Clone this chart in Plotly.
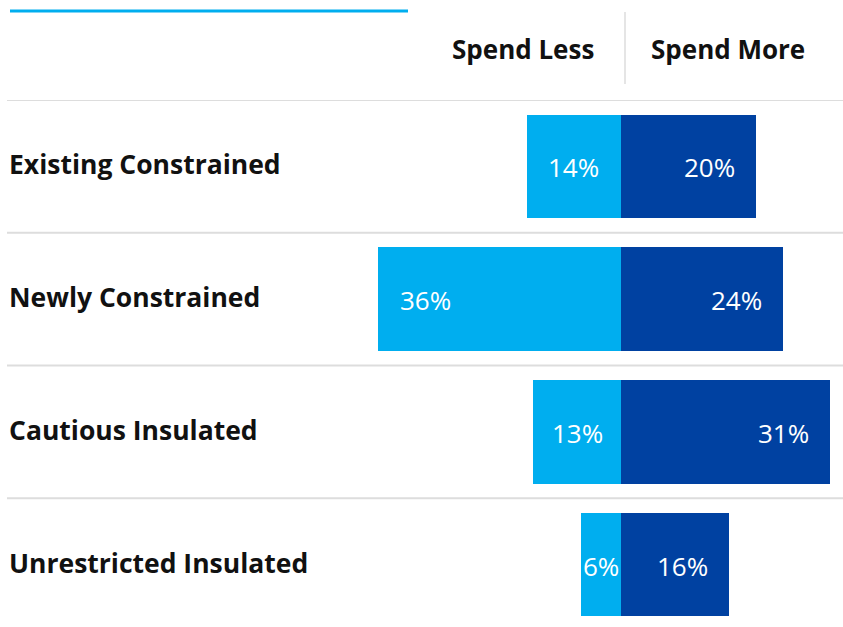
import plotly.graph_objects as go

categories = ["Existing Constrained", "Newly Constrained", "Cautious Insulated", "Unrestricted Insulated"]
spend_less = [14, 36, 13, 6]
spend_more = [20, 24, 31, 16]
series_names = ["Spend Less", "Spend More"]

LIGHT = "#00AEEF"
DARK = "#0041A1"
W, H = 843, 627
CENTER_PX = 621
PX_PER_UNIT = 6.75
TOP = 100
PLOT_H = H - TOP
FS = 26


def py(p):
    """pixel row (from top of page) -> paper y"""
    return (H - p) / PLOT_H


x_min = -CENTER_PX / PX_PER_UNIT
x_max = (W - CENTER_PX) / PX_PER_UNIT

fig = go.Figure()
fig.add_trace(go.Bar(
    y=categories, x=[-v for v in spend_less], orientation="h",
    marker=dict(color=LIGHT, line=dict(width=0)), name=series_names[0],
    width=0.78, hoverinfo="skip"))
fig.add_trace(go.Bar(
    y=categories, x=spend_more, orientation="h",
    marker=dict(color=DARK, line=dict(width=0)), name=series_names[1],
    width=0.78, hoverinfo="skip"))

annotations = []
for cat, vl, vm in zip(categories, spend_less, spend_more):
    sl = min(47, vl * PX_PER_UNIT / 2)
    sm = min(47, vm * PX_PER_UNIT / 2)
    annotations.append(dict(x=-vl, y=cat, xref="x", yref="y", text=f"{vl}%",
                            showarrow=False, xanchor="center", yanchor="middle",
                            xshift=sl, yshift=-1,
                            font=dict(family="Open Sans", size=FS, color="white")))
    annotations.append(dict(x=vm, y=cat, xref="x", yref="y", text=f"{vm}%",
                            showarrow=False, xanchor="center", yanchor="middle",
                            xshift=-sm, yshift=-1,
                            font=dict(family="Open Sans", size=FS, color="white")))
    annotations.append(dict(x=7 / W, y=cat, xref="paper", yref="y", text=f"<b>{cat}</b>",
                            showarrow=False, xanchor="left", yanchor="middle", yshift=2,
                            font=dict(family="Open Sans", size=26.5, color="#111111")))

annotations.append(dict(x=523 / W, y=py(49), xref="paper", yref="paper",
                        text=f"<b>{series_names[0]}</b>", showarrow=False,
                        xanchor="center", yanchor="middle",
                        font=dict(family="Open Sans", size=FS, color="#111111")))
annotations.append(dict(x=728 / W, y=py(49), xref="paper", yref="paper",
                        text=f"<b>{series_names[1]}</b>", showarrow=False,
                        xanchor="center", yanchor="middle",
                        font=dict(family="Open Sans", size=FS, color="#111111")))

shapes = []
# row separators
for k in range(len(categories)):
    shapes.append(dict(type="line", xref="paper", yref="y", x0=7 / W, x1=1,
                       y0=k - 0.5, y1=k - 0.5, line=dict(color="#DDDDDD", width=2)))
# header separator
shapes.append(dict(type="line", xref="paper", yref="paper", x0=625 / W, x1=625 / W,
                   y0=py(12), y1=py(84), line=dict(color="#DDDDDD", width=1.5)))
# top accent line
shapes.append(dict(type="line", xref="paper", yref="paper", x0=10 / W, x1=408 / W,
                   y0=py(11), y1=py(11), line=dict(color=LIGHT, width=3)))

fig.update_layout(
    width=W, height=H,
    margin=dict(l=0, r=0, t=TOP, b=0),
    barmode="relative",
    bargap=0,
    showlegend=False,
    plot_bgcolor="white", paper_bgcolor="white",
    xaxis=dict(range=[x_min, x_max], visible=False, fixedrange=True),
    yaxis=dict(range=[3.47, -0.5], visible=False, fixedrange=True,
               categoryorder="array", categoryarray=categories),
    annotations=annotations,
    shapes=shapes,
)

fig.write_html("out.html")
